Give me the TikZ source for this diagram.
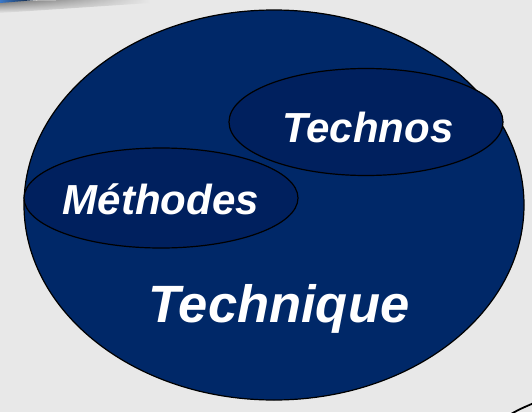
\documentclass[tikz,border=0pt]{standalone}
\usepackage{fontspec}
\setmainfont{Liberation Sans}
\usetikzlibrary{shapes.geometric,fadings}
\definecolor{bg}{HTML}{E8E8E8}
\definecolor{navy}{HTML}{002868}
\definecolor{navyd}{HTML}{00205E}
\definecolor{edgeblue}{HTML}{3A78C8}
\tikzset{
  bigell/.style={ellipse, draw=black, line width=1.2pt, fill=navy, inner sep=0pt},
  smallell/.style={ellipse, draw=black, line width=1.2pt, fill=navyd, inner sep=0pt},
  lbl/.style={text=white, anchor=base, inner sep=0pt, font=\bfseries\itshape}
}
\begin{document}
\begin{tikzpicture}[x=1pt,y=-1pt]
\useasboundingbox (0,0) rectangle (532,412);
\fill[bg] (0,0) rectangle (532,412);
% top-left shadow of a shape outside the frame
\shade[left color=black!60, right color=bg, path fading=south] (0,1) -- (150,-1) -- (150,3) -- (0,13) -- cycle;
\shade[left color=edgeblue, right color=black] (0,-1) -- (48,-1) -- (0,3) -- cycle;
% big ellipse
\node[bigell, minimum width=500pt, minimum height=390pt] (tech) at (274,205) {};
\node[smallell, minimum width=274pt, minimum height=107pt] (technos) at (366,122) {};
\node[smallell, minimum width=274pt, minimum height=100pt] (meth) at (161,198) {};
\node[lbl, font=\fontsize{42}{42}\selectfont\bfseries\itshape] (ltechnos) at (368,142) {Technos};
\node[lbl, font=\fontsize{42}{42}\selectfont\bfseries\itshape] (lmeth) at (161,214) {Méthodes};
\node[lbl, font=\fontsize{52.5}{52.5}\selectfont\bfseries\itshape] (ltech) at (279,322) {Technique};
% bottom-right edge of outer frame
\draw[line width=1.8pt] (511,414) .. controls (520,409) .. (534,403);
\end{tikzpicture}
\end{document}
